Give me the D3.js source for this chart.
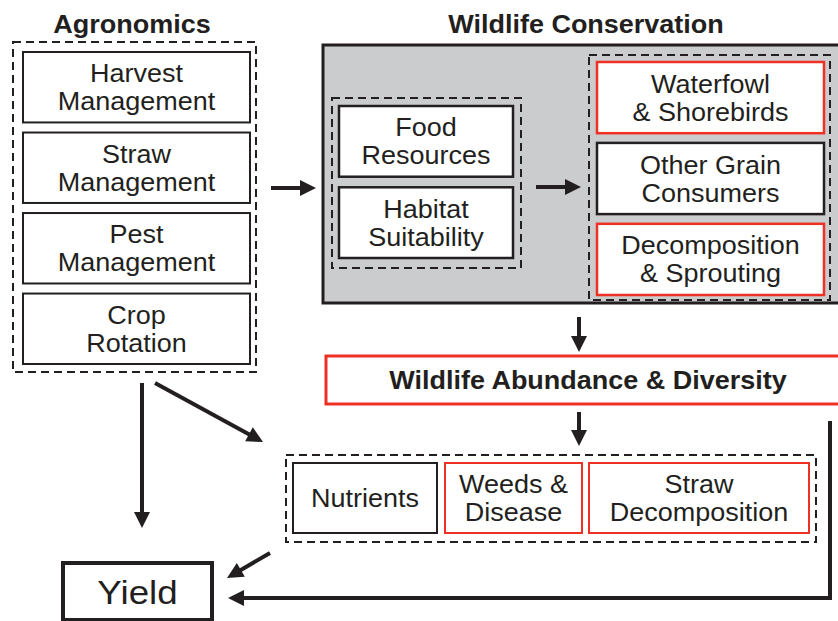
<!DOCTYPE html>
<html>
<head>
<meta charset="utf-8">
<script src="https://cdn.jsdelivr.net/npm/d3@7"></script>
<style>
  body { margin: 0; background: #fff; }
  svg { display: block; font-family: "Liberation Sans", Arial, sans-serif; }
</style>
</head>
<body>
<div id="diagram"></div>
<script>
// node labels
const agronomics = ["Harvest\nManagement", "Straw\nManagement", "Pest\nManagement", "Crop\nRotation"];
const habitat = ["Food\nResources", "Habitat\nSuitability"];
const consumers = ["Waterfowl\n& Shorebirds", "Other Grain\nConsumers", "Decomposition\n& Sprouting"];
const consumersRed = [true, false, true];
const processes = ["Nutrients", "Weeds &\nDisease", "Straw\nDecomposition"];
const processesRed = [false, true, true];
const titles = ["Agronomics", "Wildlife Conservation"];
const abundance = "Wildlife Abundance & Diversity";
const outcome = "Yield";

// svg setup
let svgWidth = 838;
let svgHeight = 621;
const ink = "#231f20";
const red = "#ee3124";
const gray = "#cbcccd";
const fs = 25;      // body font size
const stretch = 1.08; // the original text is a bit wide
const lineGap = 28;

let svg = d3.select("#diagram")
    .append("svg")
    .attr("width", svgWidth)
    .attr("height", svgHeight);

// draw a label centred on (cx, cy); "\n" splits lines
function label(g, txt, cx, cy, size, bold) {
    let lines = txt.split("\n");
    let t = g.append("text")
        .attr("transform", `translate(${cx},${cy}) scale(${stretch},1)`)
        .attr("text-anchor", "middle")
        .attr("font-size", size)
        .attr("font-weight", bold ? "bold" : "normal")
        .attr("fill", ink);
    let cap = size * 0.36;
    lines.forEach((l, i) => {
        t.append("tspan")
            .attr("x", 0)
            .attr("y", (i - (lines.length - 1) / 2) * lineGap + cap)
            .text(l);
    });
}

function box(g, x, y, w, h, color, sw, fill) {
    return g.append("rect")
        .attr("x", x).attr("y", y)
        .attr("width", w).attr("height", h)
        .attr("fill", fill || "#fff")
        .attr("stroke", color)
        .attr("stroke-width", sw);
}

function dashed(g, x, y, w, h) {
    return g.append("rect")
        .attr("x", x).attr("y", y)
        .attr("width", w).attr("height", h)
        .attr("fill", "none")
        .attr("stroke", ink)
        .attr("stroke-width", 2)
        .attr("stroke-dasharray", "8,5");
}

// arrow with a filled head at the end of the given points
function arrow(g, pts) {
    let n = pts.length;
    let [x1, y1] = pts[n - 2], [x2, y2] = pts[n - 1];
    let a = Math.atan2(y2 - y1, x2 - x1);
    let hl = 16, hw = 8;
    let bx = x2 - hl * Math.cos(a), by = y2 - hl * Math.sin(a);
    let linePts = pts.slice(0, n - 1).concat([[bx + 2 * Math.cos(a), by + 2 * Math.sin(a)]]);
    g.append("path")
        .attr("d", d3.line()(linePts))
        .attr("fill", "none")
        .attr("stroke", ink)
        .attr("stroke-width", 4);
    g.append("path")
        .attr("d", d3.line()([
            [x2, y2],
            [bx - hw * Math.sin(a), by + hw * Math.cos(a)],
            [bx + hw * Math.sin(a), by - hw * Math.cos(a)]
        ]) + "Z")
        .attr("fill", ink);
}

let g = svg.append("g");

// titles
label(g, titles[0], 132, 24, 25, true);
label(g, titles[1], 586, 24, 25, true);

// agronomics column
dashed(g, 13, 42, 243, 330);
let yAgro = d3.scaleBand().domain(agronomics).range([52, 364]).paddingInner(0.125);
agronomics.forEach(d => {
    box(g, 23, yAgro(d), 227, yAgro.bandwidth(), ink, 2);
    label(g, d, 136.5, yAgro(d) + yAgro.bandwidth() / 2, fs);
});

// wildlife conservation panel
box(g, 323, 45, 540, 258, ink, 3, gray);
dashed(g, 332, 98, 189, 170);
let yHab = d3.scaleBand().domain(habitat).range([106, 258]).paddingInner(0.13);
habitat.forEach(d => {
    box(g, 339, yHab(d), 174, yHab.bandwidth(), ink, 2.5);
    label(g, d, 426, yHab(d) + yHab.bandwidth() / 2, fs);
});
dashed(g, 589, 55, 241, 245);
let yCon = d3.scaleBand().domain(consumers).range([62, 295]).paddingInner(0.12);
consumers.forEach((d, i) => {
    box(g, 597, yCon(d), 227, yCon.bandwidth(), consumersRed[i] ? red : ink, 2.5);
    label(g, d, 710.5, yCon(d) + yCon.bandwidth() / 2, fs);
});

// wildlife abundance bar
box(g, 326, 356, 540, 48, red, 3);
label(g, abundance, 588, 380, 25, true);

// processes row
dashed(g, 286, 455, 530, 87);
let xProc = [[293, 144], [445, 137], [589, 220]];
processes.forEach((d, i) => {
    let [x, w] = xProc[i];
    box(g, x, 463, w, 70, processesRed[i] ? red : ink, 2);
    label(g, d, x + w / 2, 498, fs);
});

// yield
box(g, 63, 563, 149, 57, ink, 4);
label(g, outcome, 137.5, 592, 34);

// arrows
arrow(g, [[271, 188], [316, 188]]);
arrow(g, [[536, 187], [581, 187]]);
arrow(g, [[579, 317], [579, 352]]);
arrow(g, [[579, 412], [579, 446]]);
arrow(g, [[142, 383], [142, 528]]);
arrow(g, [[155, 383], [263, 442]]);
arrow(g, [[270, 553], [227, 578]]);
arrow(g, [[830, 421], [830, 598], [228, 598]]);
</script>
</body>
</html>
